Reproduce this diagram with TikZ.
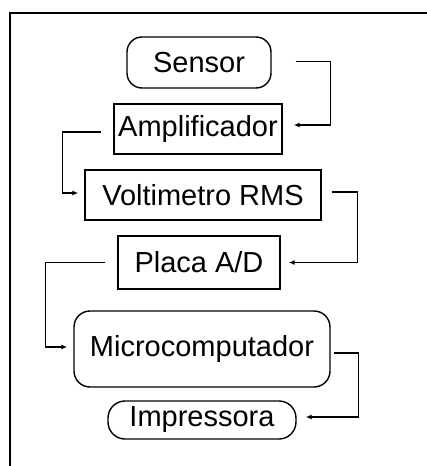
\documentclass[tikz,border=0pt]{standalone}
\usepackage{fontspec}
\setmainfont{Liberation Sans}
\usetikzlibrary{arrows.meta}
\begin{document}
\begin{tikzpicture}[x=1pt,y=-1pt,
  blk/.style={draw, line width=1.4pt, inner sep=0pt, font=\fontsize{29}{32}\selectfont},
  rblk/.style={blk, rounded corners=15pt},
  conn/.style={draw, line width=1.2pt, -{Latex[length=6pt,width=5pt]}}]
\useasboundingbox (0,0) rectangle (426,466);
\draw[line width=1.2pt] (10,470) -- (10,13) -- (430,13);
\node[rblk, minimum width=144pt, minimum height=51pt] (sensor) at (199,62.5) {Sensor};
\node[blk, minimum width=168pt, minimum height=50pt] (amp) at (198,129) {Amplificador};
\node[blk, minimum width=236pt, minimum height=50pt] (volt) at (203,195) {Voltimetro RMS};
\node[blk, minimum width=162pt, minimum height=53pt] (placa) at (199,262.5) {Placa A/D};
\node[rblk, rounded corners=16pt, minimum width=256pt, minimum height=76pt] (micro) at (202,349) {Microcomputador};
\node[rblk, rounded corners=17pt, minimum width=188pt, minimum height=38pt] (impr) at (202,420) {Impressora};
\draw[conn] ([xshift=24pt,yshift=1pt]sensor.east) -- ++(35,0) |- ([xshift=11pt,yshift=4pt]amp.east);
\draw[conn] ([xshift=-12pt,yshift=-3pt]amp.west) -- ++(-39,0) |- ([xshift=-6pt,yshift=2pt]volt.west);
\draw[conn] ([xshift=10pt,yshift=3pt]volt.east) -- ++(26,0) |- ([xshift=8pt]placa.east);
\draw[conn] ([xshift=-12pt]placa.west) -- ++(-60,0) |- ([xshift=-6pt,yshift=2pt]micro.west);
\draw[conn] ([xshift=3pt,yshift=-4pt]micro.east) -- ++(25,0) |- ([xshift=9pt,yshift=3pt]impr.east);
\end{tikzpicture}
\end{document}
